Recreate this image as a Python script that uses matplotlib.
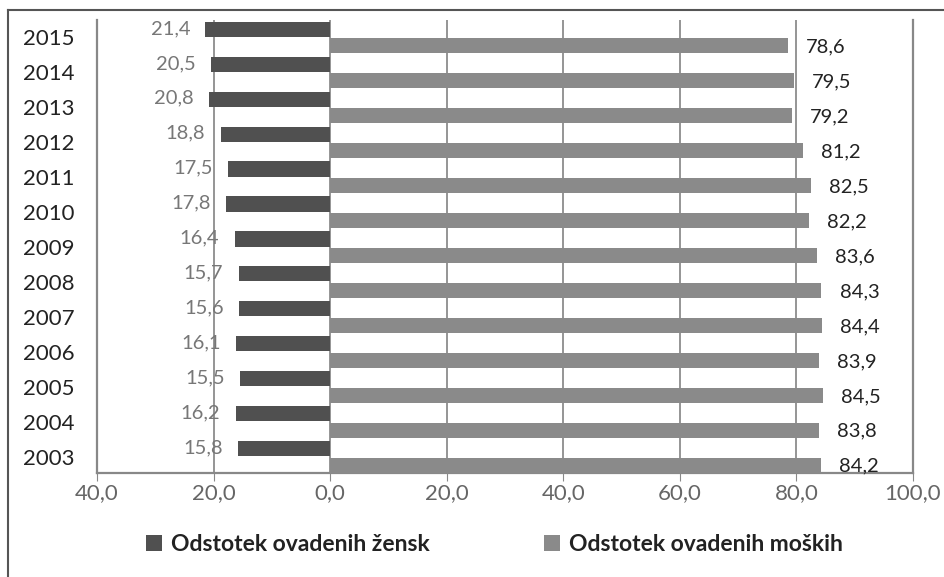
import numpy as np
import matplotlib
matplotlib.use('Agg')
import matplotlib.pyplot as plt
from matplotlib.lines import Line2D

plt.rcParams['font.family'] = ['Lato', 'DejaVu Sans']

# Data
years = [2003, 2004, 2005, 2006, 2007, 2008, 2009, 2010, 2011, 2012, 2013, 2014, 2015]
women = [15.8, 16.2, 15.5, 16.1, 15.6, 15.7, 16.4, 17.8, 17.5, 18.8, 20.8, 20.5, 21.4]
men = [84.2, 83.8, 84.5, 83.9, 84.4, 84.3, 83.6, 82.2, 82.5, 81.2, 79.2, 79.5, 78.6]
x_ticks = [-40, -20, 0, 20, 40, 60, 80, 100]
label_women = 'Odstotek ovadenih žensk'
label_men = 'Odstotek ovadenih moških'

c_women = '#505050'
c_men = '#8a8a8a'

fig = plt.figure(figsize=(9.45, 5.77), dpi=100)
ax = fig.add_axes([97 / 945, 104 / 577, (913 - 97) / 945, (473 - 20) / 577])

y = np.arange(len(years))
h = 0.43
ax.barh(y + 0.24, [-v for v in women], height=h, color=c_women, label=label_women, zorder=3)
ax.barh(y - 0.24, men, height=h, color=c_men, label=label_men, zorder=3)

for yi, w, m in zip(y, women, men):
    ax.annotate(f'{w:.1f}'.replace('.', ','), (-w, yi + 0.26), xytext=(-11, 0),
                textcoords='offset points', ha='right', va='center',
                fontsize=14.5, color='#777777')
    ax.annotate(f'{m:.1f}'.replace('.', ','), (m, yi - 0.26), xytext=(13, 0),
                textcoords='offset points', ha='left', va='center',
                fontsize=14.5, color='#222222')

ax.set_xlim(-40, 100)
ax.set_ylim(-0.45, 12.5)
ax.set_xticks(x_ticks)
ax.set_xticklabels([f'{abs(t):.1f}'.replace('.', ',') for t in x_ticks],
                   fontsize=16, color='#666666')
ax.set_yticks(y)
ax.set_yticklabels([str(v) for v in years], fontsize=16, color='#222222')
ax.tick_params(axis='y', length=0, pad=16)
ax.tick_params(axis='x', length=6, direction='out', color='#888888', pad=1)
ax.xaxis.grid(True, color='#8c8c8c', linewidth=1.3, zorder=0)
for side in ['left', 'right', 'bottom']:
    ax.spines[side].set_color('#888888')
    ax.spines[side].set_linewidth(1.6)
ax.spines['top'].set_visible(False)

ax.legend(loc='upper center', bbox_to_anchor=(0.487, -0.09), ncol=2, frameon=False,
          handlelength=0.7, handleheight=0.7, handletextpad=0.4,
          columnspacing=5.0, prop={'size': 16.5, 'weight': 'bold'},
          labelcolor='#222222')

# outer frame of the chart
fig.add_artist(Line2D([8 / 945, 1], [1 - 10 / 577, 1 - 10 / 577], color='#555555', linewidth=1.5))
fig.add_artist(Line2D([8 / 945, 8 / 945], [0, 1 - 10 / 577], color='#555555', linewidth=1.5))

fig.savefig('out.png', dpi=100)
